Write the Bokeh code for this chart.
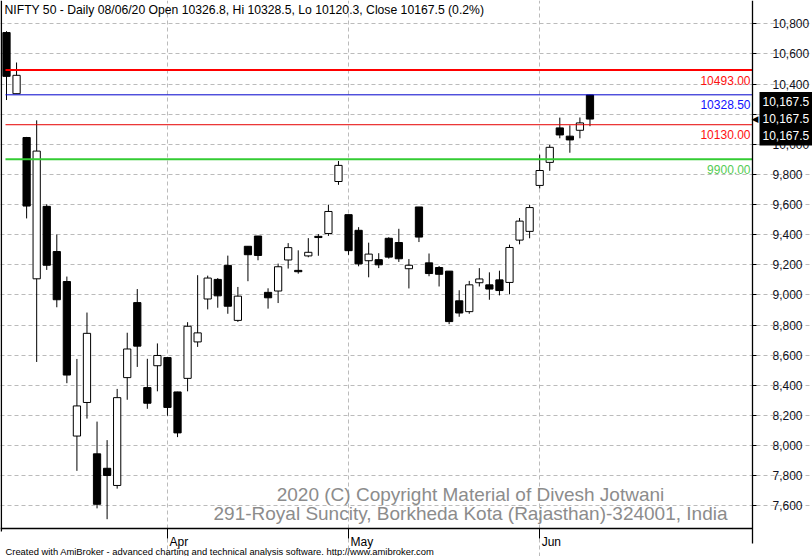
from bokeh.plotting import figure
from bokeh.models import (FixedTicker, NumeralTickFormatter, Label, ColumnDataSource, Range1d)
from bokeh.embed import file_html
from bokeh.resources import INLINE

# ---------------- data ----------------
dates = ["2020-03-09", "2020-03-11", "2020-03-12", "2020-03-13", "2020-03-16", "2020-03-17",
         "2020-03-18", "2020-03-19", "2020-03-20", "2020-03-23", "2020-03-24", "2020-03-25",
         "2020-03-26", "2020-03-27", "2020-03-30", "2020-03-31",
         "2020-04-01", "2020-04-03", "2020-04-07", "2020-04-08", "2020-04-09", "2020-04-13",
         "2020-04-15", "2020-04-16", "2020-04-17", "2020-04-20", "2020-04-21", "2020-04-22",
         "2020-04-23", "2020-04-24", "2020-04-27", "2020-04-28", "2020-04-29", "2020-04-30",
         "2020-05-04", "2020-05-05", "2020-05-06", "2020-05-07", "2020-05-08", "2020-05-11",
         "2020-05-12", "2020-05-13", "2020-05-14", "2020-05-15", "2020-05-18", "2020-05-19",
         "2020-05-20", "2020-05-21", "2020-05-22", "2020-05-26", "2020-05-27", "2020-05-28",
         "2020-05-29",
         "2020-06-01", "2020-06-02", "2020-06-03", "2020-06-04", "2020-06-05", "2020-06-08"]

opens = [10742, 10336, 10045, 9107, 9588, 9288, 9089, 8063, 8286, 7945, 7849, 7735, 8451, 8949,
         8385, 8530, 8584, 8356, 8446, 8688, 8973, 9103, 9196, 8831, 9323, 9391, 9017, 9026,
         9232, 9163, 9259, 9389, 9408, 9753, 9533, 9429, 9227, 9234, 9376, 9348, 9174, 9584,
         9213, 9182, 9158, 8961, 8889, 9081, 9067, 9100, 9083, 9364, 9422, 9727, 9880, 10109,
         10054, 10093, 10326.8]
highs = [10751, 10543, 10049, 10159, 9602, 9401, 9122, 8575, 8883, 8159, 8036, 8376, 8749, 9039,
         8576, 8678, 8588, 8357, 8819, 9131, 9128, 9112, 9261, 9053, 9324, 9391, 9044, 9208,
         9344, 9296, 9377, 9404, 9599, 9889, 9533, 9450, 9347, 9277, 9383, 9439, 9238, 9584,
         9275, 9192, 9158, 9031, 9093, 9178, 9150, 9161, 9334, 9511, 9598, 9931, 9996, 10177,
         10126, 10178, 10328.5]
lows = [10294, 10336, 9508, 8555, 9166, 8918, 8414, 7832, 8179, 7583, 7511, 7714, 8304, 8522,
        8244, 8360, 8198, 8056, 8360, 8655, 8904, 8915, 8875, 8821, 9091, 9230, 8909, 8946,
        9175, 9141, 9250, 9260, 9392, 9731, 9266, 9190, 9117, 9178, 9241, 9219, 9043, 9351,
        9124, 9056, 8806, 8855, 8875, 9056, 8968, 8997, 9004, 9336, 9376, 9707, 9824, 10040,
        9944, 10040, 10120.3]
closes = [10451, 10458, 9590, 9955, 9197, 8968, 8468, 8263, 8745, 7610, 7801, 8318, 8641, 8660,
          8281, 8598, 8253, 8084, 8792, 8748, 9112, 8994, 8925, 8992, 9267, 9262, 8981, 9187,
          9314, 9154, 9283, 9381, 9554, 9860, 9294, 9206, 9271, 9200, 9251, 9240, 9197, 9384,
          9142, 9137, 8823, 8880, 9067, 9106, 9039, 9029, 9315, 9490, 9580, 9826, 9980, 10062,
          10029, 10142, 10167.5]

levels = [10493.00, 10328.50, 10130.00, 9900.00]
level_texts = ["10493.00", "10328.50", "10130.00", "9900.00"]
level_line_colors = ["#ff0000", "#0000cc", "#e60000", "#33cc33"]
level_text_colors = ["#ff1010", "#1010ff", "#ff1010", "#55cc55"]
level_line_widths = [2, 1, 1, 2]

y_ticks = [7600, 7800, 8000, 8200, 8400, 8600, 8800, 9000, 9200, 9400, 9600, 9800,
           10000, 10200, 10400, 10600, 10800]
month_names = ["Apr", "May", "Jun"]

title_text = ("NIFTY 50 - Daily 08/06/20 Open 10326.8, Hi 10328.5, Lo 10120.3, "
              "Close 10167.5 (0.2%)")
watermark_lines = ["2020 (C) Copyright Material of Divesh Jotwani",
                   "291-Royal Suncity, Borkheda Kota (Rajasthan)-324001, India"]
footer_text = ("Created with AmiBroker - advanced charting and technical analysis "
               "software. http://www.amibroker.com")
last_close_text = "10,167.5"

# ---------------- layout ----------------
W, H = 812, 556          # the whole canvas is the frame
FONT = "Liberation Sans"


def rx(xr):                # pixel column -> bar index
    return (xr - 6.0) / 10.06


def ry(yr):                # pixel row -> price
    return 10800.0 - (yr - 23.3) * 6.639


idx = list(range(len(dates)))
month_ticks = [i for i in idx[1:] if dates[i][5:7] != dates[i - 1][5:7]]

p = figure(width=W, height=H, x_range=Range1d(rx(0), rx(W)), y_range=Range1d(ry(H), ry(0)),
           y_axis_location="right", output_backend="svg", toolbar_location=None,
           min_border_left=0, min_border_right=0, min_border_top=0, min_border_bottom=0)
p.outline_line_color = None
p.background_fill_color = "white"
p.border_fill_color = "white"

# right price axis, pinned at the plot's right edge
ya = p.yaxis[0]
ya.fixed_location = rx(752)
ya.bounds = (ry(543), ry(0))
ya.ticker = FixedTicker(ticks=y_ticks)
ya.formatter = NumeralTickFormatter(format="0,0")
ya.major_tick_out = 4
ya.major_tick_in = 0
ya.minor_tick_line_color = None
ya.axis_line_color = "black"
ya.axis_line_width = 1.3
ya.major_tick_line_color = "black"
ya.major_label_standoff = 16
ya.major_label_text_font = FONT
ya.major_label_text_font_size = "12px"
ya.major_label_text_color = "#101020"

# bottom time axis, pinned at the plot's bottom edge (month names drawn as labels)
xa = p.xaxis[0]
xa.fixed_location = ry(528)
xa.bounds = (rx(0), rx(752))
xa.ticker = FixedTicker(ticks=month_ticks)
xa.major_label_overrides = {t: "" for t in month_ticks}
xa.major_label_text_font_size = "1px"
xa.major_tick_out = 10
xa.major_tick_in = 0
xa.minor_tick_line_color = None
xa.axis_line_color = "black"
xa.axis_line_width = 1.3
xa.major_tick_line_color = "black"

p.ygrid.ticker = FixedTicker(ticks=y_ticks)
p.ygrid.bounds = (rx(4), rx(752))
p.xgrid.ticker = FixedTicker(ticks=month_ticks)
p.xgrid.bounds = (ry(528), ry(0))
for g in (p.xgrid, p.ygrid):
    g.grid_line_color = "#bbbbbb"
    g.grid_line_dash = "4 3"
    g.grid_line_width = 1

# left border of the plot area
p.segment(x0=[rx(0.8)], y0=[ry(531)], x1=[rx(0.8)], y1=[ry(0)], line_color="black",
          line_width=1.5)

# candles
src = ColumnDataSource(dict(
    x=idx, open=opens, high=highs, low=lows, close=closes,
    top=[max(o, c) for o, c in zip(opens, closes)],
    bottom=[min(o, c) for o, c in zip(opens, closes)],
    fill=["white" if c >= o else "black" for o, c in zip(opens, closes)],
))
p.segment(x0="x", y0="low", x1="x", y1="high", source=src, line_color="black", line_width=1)
p.vbar(x="x", width=0.72, top="top", bottom="bottom", fill_color="fill",
       line_color="black", line_width=1, source=src)

# horizontal levels
lsrc = ColumnDataSource(dict(
    x0=[rx(5)] * len(levels), x1=[rx(752)] * len(levels), y=levels,
    color=level_line_colors, w=level_line_widths))
p.segment(x0="x0", y0="y", x1="x1", y1="y", line_color="color", line_width="w", source=lsrc)

for lv, txt, col in zip(levels, level_texts, level_text_colors):
    p.add_layout(Label(x=rx(750), y=lv - 10 * 6.639, text=txt, text_align="right",
                       text_baseline="alphabetic", text_color=col, text_font=FONT,
                       text_font_size="12px"))

# title
p.add_layout(Label(x=rx(4), y=ry(9.3), text=title_text, text_align="left",
                   text_baseline="alphabetic", text_color="black", text_font=FONT,
                   text_font_size="12.2px"))

# month names, just right of each month tick
for t, name in zip(month_ticks, month_names):
    p.add_layout(Label(x=t, x_offset=2, y=ry(541.5), text=name, text_align="left",
                       text_baseline="alphabetic", text_color="black", text_font=FONT,
                       text_font_size="12px"))

# watermark
for yb, line in zip([494, 513], watermark_lines):
    p.add_layout(Label(x=rx(470), y=ry(yb), text=line, text_align="center",
                       text_baseline="alphabetic", text_color="#8c8c8c", text_font=FONT,
                       text_font_size="19px"))

# footer
p.add_layout(Label(x=rx(5), y=ry(550.5), text=footer_text, text_align="left",
                   text_baseline="alphabetic", text_color="black", text_font=FONT,
                   text_font_size="9.4px"))

# last-close marker on the price axis
p.add_layout(Label(x=rx(759), y=ry(118.3),
                   text="\n".join([last_close_text] * 3), text_align="left",
                   text_baseline="middle", text_color="white", text_font=FONT,
                   text_font_size="12px", background_fill_color="black", padding=3,
                   text_line_height=1.2))
p.add_layout(Label(x=rx(751), y=ry(118.3), text="\u25c0", text_align="left",
                   text_baseline="middle", text_color="black", text_font="DejaVu Sans",
                   text_font_size="9px"))

open("out.html", "w").write(file_html(p, INLINE))
